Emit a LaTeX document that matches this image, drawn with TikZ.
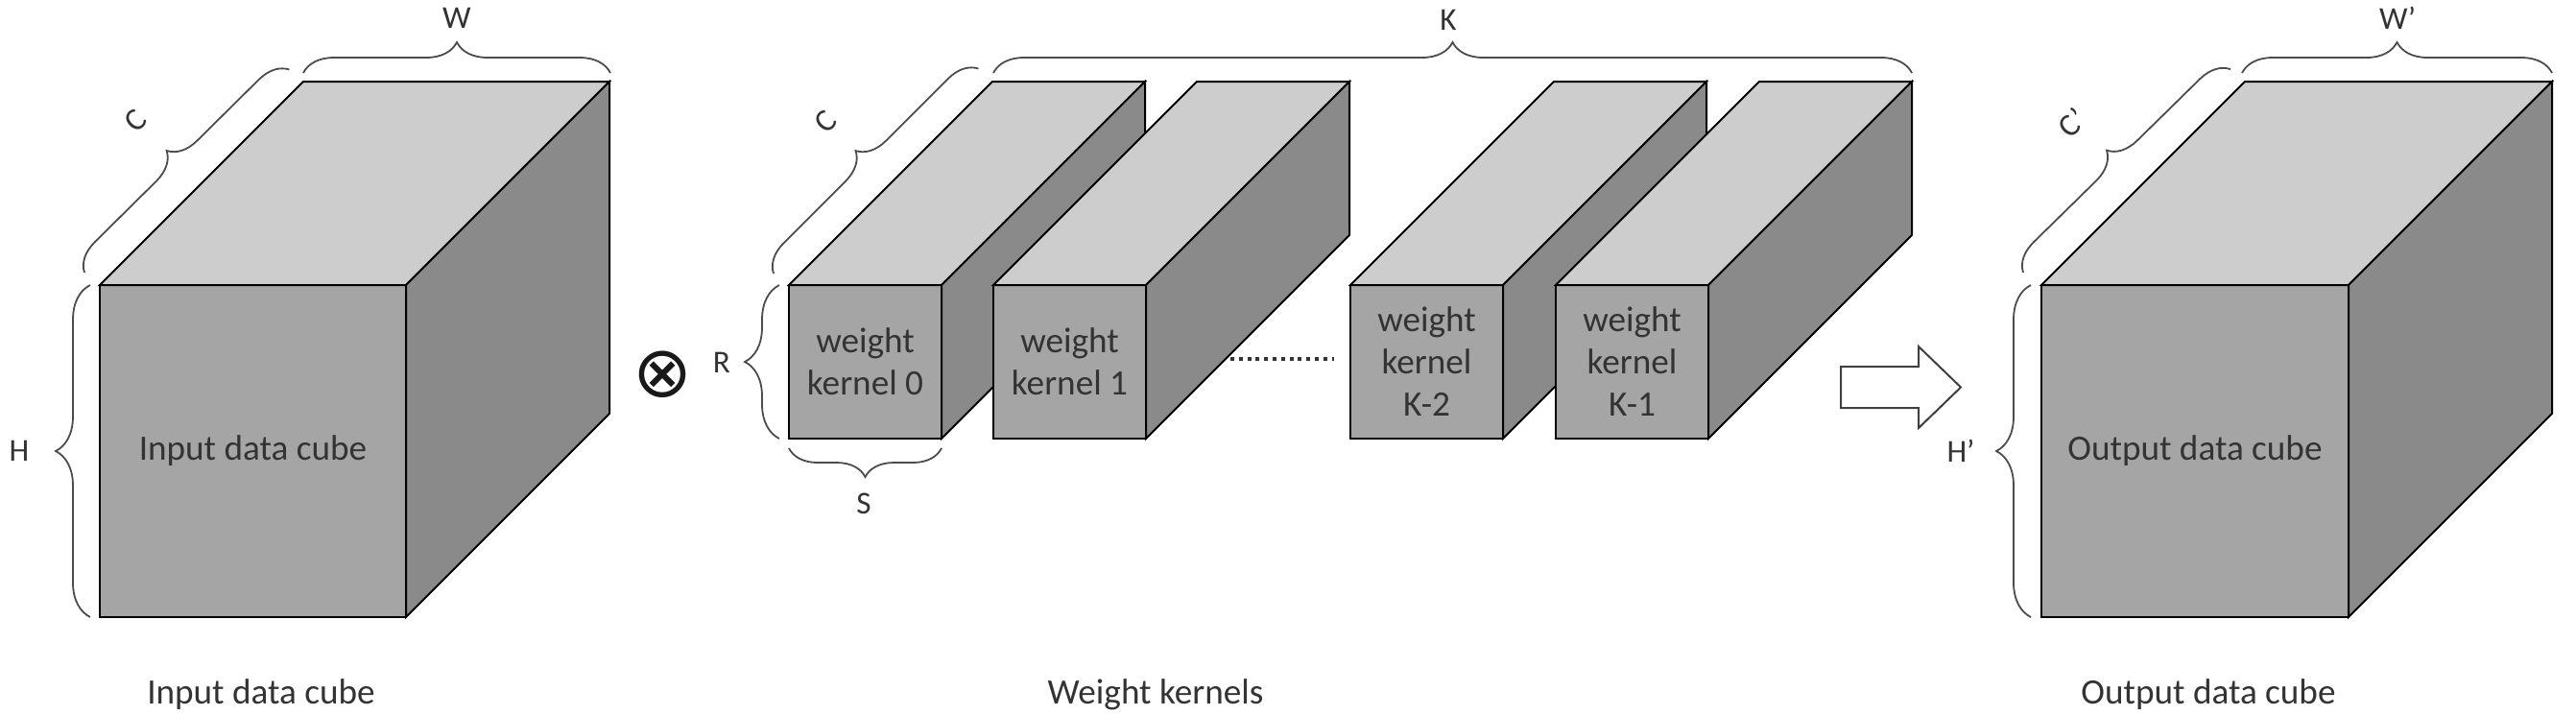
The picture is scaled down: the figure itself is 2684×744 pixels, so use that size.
\documentclass[tikz,border=0pt]{standalone}
\usepackage{fontspec}
\setmainfont{Carlito}
\newfontfamily\symfont{DejaVu Sans}
\usetikzlibrary{decorations.pathreplacing}
\definecolor{topc}{HTML}{CDCDCD}
\definecolor{frontc}{HTML}{A5A5A5}
\definecolor{sidec}{HTML}{8A8A8A}
\definecolor{txtc}{HTML}{333333}
\newcommand\drawcuboid[4]{%
  \filldraw[face, fill=frontc] (#1,#2) rectangle ({#1+#3},{#2+#4});
  \filldraw[face, fill=topc] (#1,#2) -- ({#1+212},{#2-212}) -- ({#1+#3+212},{#2-212}) -- ({#1+#3},#2) -- cycle;
  \filldraw[face, fill=sidec] ({#1+#3},#2) -- ({#1+#3+212},{#2-212}) -- ({#1+#3+212},{#2+#4-212}) -- ({#1+#3},{#2+#4}) -- cycle;
}
\begin{document}
\begin{tikzpicture}[x=0.25pt,y=-0.25pt,
  face/.style={draw=black, line width=0.5pt, line join=miter},
  brc/.style={decorate, decoration={brace, amplitude=#1}, draw=black!70, line width=0.45pt},
  brc/.default=8pt,
  lbl/.style={text=txtc, font=\fontsize{8.3}{10}\selectfont, inner sep=0pt},
  facetext/.style={text=txtc, font=\fontsize{9.3}{11}\selectfont, align=center, inner sep=0pt},
  caption/.style={text=txtc, font=\fontsize{9.3}{11}\selectfont, inner sep=0pt},
  blockarrow/.style={draw=black!75, fill=white, line width=0.5pt, line join=miter}]
\useasboundingbox (0,0) rectangle (2684,744);

% ---------- input cube ----------
\drawcuboid{104}{297}{319}{346}
\node[facetext] (intext) at (263.5,470) {Input data cube};
\draw[brc] (316,76) -- (636,76);
\node[lbl] (lW) at (476,19) {W};
\draw[brc=7.5pt] (88,284) -- (302,72);
\node[lbl, rotate=45] (lC) at (141,126) {C};
\draw[brc=9pt] (94,643) -- (94,297);
\node[lbl] (lH) at (20,470) {H};
\node[caption] (capin) at (272,724) {Input data cube};

% ---------- operator ----------
\node[inner sep=0pt, font=\symfont\fontsize{18.5}{18.5}\selectfont, text=black!90] (op) at (690,390) {⊗};

% ---------- kernels ----------
\drawcuboid{822}{297}{159}{160}
\node[facetext] (k0) at (901.5,377) {weight\\kernel 0};
\drawcuboid{1035}{297}{159}{160}
\node[facetext] (k1) at (1114.5,377) {weight\\kernel 1};
\drawcuboid{1407}{297}{159}{160}
\node[facetext] (k2) at (1486.5,377) {weight\\kernel\\K-2};
\drawcuboid{1621}{297}{159}{160}
\node[facetext] (k3) at (1700.5,377) {weight\\kernel\\K-1};

\coordinate (dotA) at (1282,374);
\coordinate (dotB) at (1390,374);
\draw[black!80, line width=1pt, dash pattern=on 1pt off 1.2pt] (dotA) -- (dotB);

\draw[brc=9pt] (812,457) -- (812,297);
\node[lbl] (lR) at (752,378) {R};
\draw[brc=7.5pt] (981,467) -- (822,467);
\node[lbl] (lS) at (900,525) {S};
\draw[brc=7.5pt] (806,285) -- (1020,71);
\node[lbl, rotate=45] (lC2) at (860,127) {C};
\draw[brc] (1035,76) -- (1992,76);
\node[lbl] (lK) at (1509,21) {K};
\node[caption] (capk) at (1204,724) {Weight kernels};

% ---------- arrow ----------
\draw[blockarrow] (1918,382) -- (1999,382) -- (1999,361) -- (2043,403.5) -- (1999,446) -- (1999,425) -- (1918,425) -- cycle;

% ---------- output cube ----------
\drawcuboid{2127}{297}{320}{346}
\node[facetext] (outtext) at (2287,470) {Output data cube};
\draw[brc] (2336,76) -- (2659,76);
\node[lbl] (lW2) at (2498,19) {W’};
\draw[brc=7.5pt] (2108,284) -- (2324,72);
\node[lbl, rotate=45] (lC3) at (2159,128) {C’};
\draw[brc=9pt] (2116,643) -- (2116,297);
\node[lbl] (lH2) at (2043,470) {H’};
\node[caption] (capout) at (2301,724) {Output data cube};
\end{tikzpicture}
\end{document}
